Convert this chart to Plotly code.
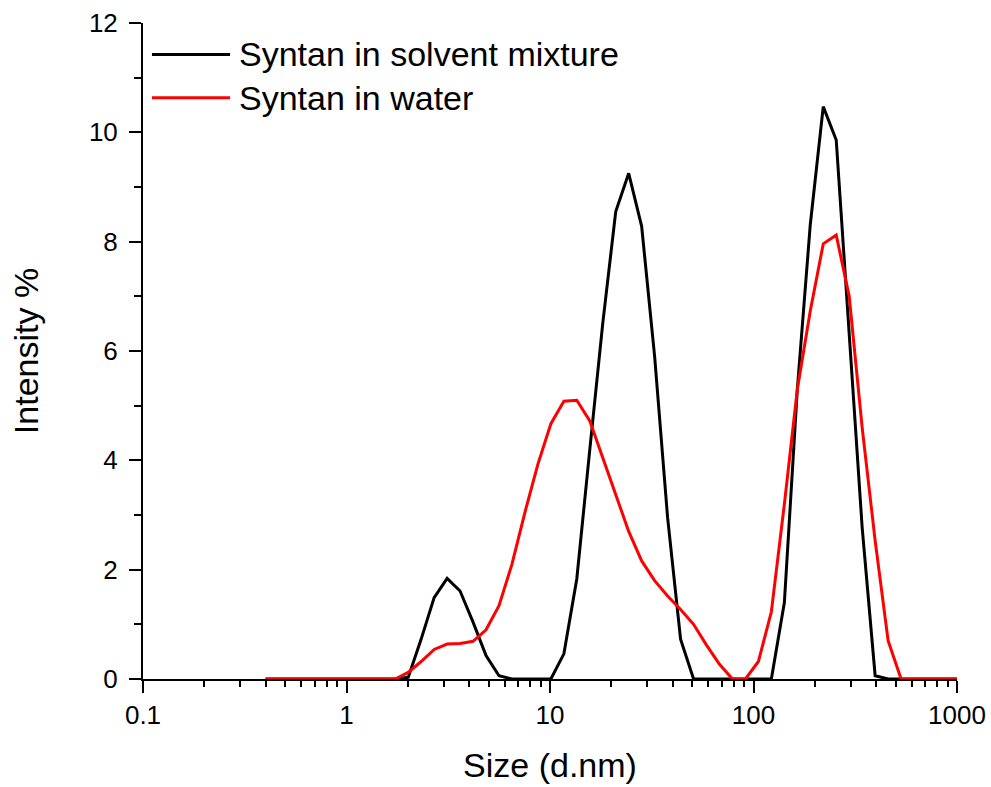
import plotly.graph_objects as go

# Size bins (d.nm)
size_nm = [0.4000, 0.4632, 0.5365, 0.6213, 0.7195, 0.8332, 0.9649, 1.117, 1.294, 1.499,
           1.736, 2.010, 2.328, 2.696, 3.122, 3.615, 4.187, 4.849, 5.615, 6.503,
           7.531, 8.721, 10.10, 11.70, 13.54, 15.69, 18.17, 21.04, 24.36, 28.21,
           32.67, 37.84, 43.82, 50.75, 58.77, 68.06, 78.82, 91.28, 105.7, 122.4,
           141.8, 164.2, 190.1, 220.2, 255.0, 295.3, 342.0, 396.1, 458.7, 531.2,
           615.1, 712.4, 825.0, 955.4, 1106]

solvent_mixture = [0, 0, 0, 0, 0, 0, 0, 0, 0, 0,
                   0, 0.03, 0.73, 1.49, 1.84, 1.61, 1.04, 0.43, 0.06, 0,
                   0, 0, 0, 0.46, 1.83, 4.2, 6.51, 8.55, 9.25, 8.28,
                   5.9, 2.95, 0.73, 0, 0, 0, 0, 0, 0, 0,
                   1.40, 5.3, 8.31, 10.47, 9.86, 6.4, 2.77, 0.06, 0, 0,
                   0, 0, 0, 0, 0]

water = [0, 0, 0, 0, 0, 0, 0, 0, 0, 0,
         0, 0.12, 0.32, 0.54, 0.64, 0.65, 0.69, 0.9, 1.34, 2.1,
         3.05, 3.93, 4.67, 5.08, 5.10, 4.72, 4.05, 3.35, 2.7, 2.16,
         1.80, 1.52, 1.27, 1.0, 0.62, 0.27, 0, 0, 0.32, 1.23,
         3.2, 5.3, 6.73, 7.96, 8.12, 7.0, 4.6, 2.53, 0.70, 0,
         0, 0, 0, 0, 0]

series_names = ["Syntan in solvent mixture", "Syntan in water"]
series_colors = ["#000000", "#FF0000"]

x_tickvals = [0.1, 1, 10, 100, 1000]
x_ticktext = ["0.1", "1", "10", "100", "1000"]
x_minor = [m * d for d in [0.1, 1, 10, 100] for m in range(2, 10)]

FONT = "Arial, Liberation Sans, sans-serif"

fig = go.Figure()
for name, vals, col in zip(series_names, [solvent_mixture, water], series_colors):
    fig.add_trace(go.Scatter(x=size_nm, y=vals, mode="lines", name=name,
                             line=dict(color=col, width=3), showlegend=False))

# manual legend (long line samples like the original)
leg_y = [0.952, 0.886]
for name, col, yy in zip(series_names, series_colors, leg_y):
    fig.add_shape(type="line", xref="paper", yref="paper", x0=0.011, x1=0.107,
                  y0=yy, y1=yy, line=dict(color=col, width=3))
    fig.add_annotation(xref="paper", yref="paper", x=0.116, y=yy, text=name,
                       showarrow=False, xanchor="left", yanchor="middle",
                       font=dict(family=FONT, size=34, color="black"))

fig.update_layout(
    width=991, height=787,
    margin=dict(l=143, r=34, t=23, b=108),
    plot_bgcolor="white", paper_bgcolor="white",
    font=dict(family=FONT, color="black"),
    xaxis=dict(type="log", range=[-1, 3], showline=True, linecolor="black", linewidth=2,
               automargin=False,
               ticks="outside", ticklen=12, tickwidth=2, tickcolor="black",
               tickmode="array", tickvals=x_tickvals, ticktext=x_ticktext,
               tickfont=dict(size=26), showgrid=False, zeroline=False,
               minor=dict(ticks="outside", ticklen=6, tickwidth=2, tickcolor="black",
                          tickmode="array", tickvals=x_minor, showgrid=False),
               title=dict(text="Size (d.nm)", font=dict(size=34), standoff=24)),
    yaxis=dict(range=[0, 12], showline=True, linecolor="black", linewidth=2,
               automargin=False,
               ticks="outside", ticklen=12, tickwidth=2, tickcolor="black",
               tick0=0, dtick=2, tickfont=dict(size=26), showgrid=False, zeroline=False,
               ticklabelstandoff=6,
               minor=dict(ticks="outside", ticklen=7, tickwidth=2, tickcolor="black",
                          dtick=1, showgrid=False),
               title=dict(text="Intensity %", font=dict(size=34), standoff=40)),
)

fig.write_html("out.html")
